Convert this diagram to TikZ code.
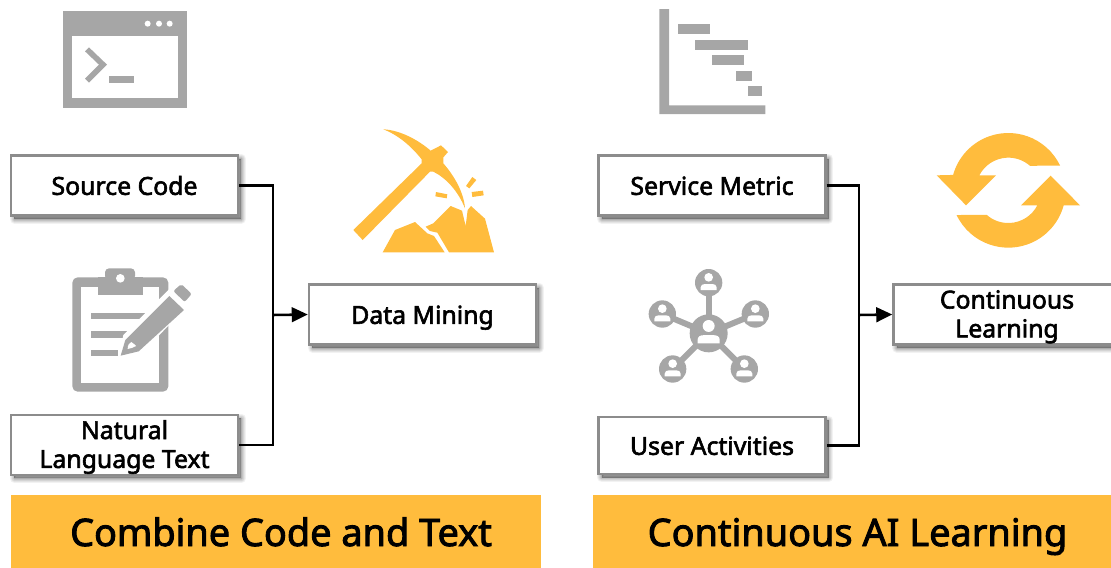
\documentclass[tikz,border=0pt]{standalone}
\usepackage{fontspec}
\setmainfont{Noto Sans}
\newfontfamily\labelfont{Noto Sans}[FakeBold=2.4]
\newfontfamily\bannerfont{Noto Sans}[FakeBold=2.4]
\usetikzlibrary{arrows.meta}
\definecolor{iconGray}{HTML}{A6A6A6}
\definecolor{gold}{HTML}{FFBC3D}
\definecolor{boxEdge}{HTML}{8C8C8C}
\tikzset{
  softshadow/.style={
    preaction={draw=black,fill=black,opacity=.05,line width=7pt,line join=round,transform canvas={shift={(2.5pt,-2.5pt)}}},
    preaction={draw=black,fill=black,opacity=.06,line width=5.5pt,line join=round,transform canvas={shift={(2.5pt,-2.5pt)}}},
    preaction={draw=black,fill=black,opacity=.07,line width=4pt,line join=round,transform canvas={shift={(2.5pt,-2.5pt)}}},
    preaction={draw=black,fill=black,opacity=.08,line width=2.5pt,line join=round,transform canvas={shift={(2.5pt,-2.5pt)}}},
    preaction={draw=black,fill=black,opacity=.1,line width=1pt,line join=round,transform canvas={shift={(2.5pt,-2.5pt)}}}},
  labelbox/.style={draw=boxEdge,fill=white,line width=1.9pt,minimum width=170.2pt,softshadow,
    inner sep=0pt,align=center,font=\fontsize{18.6pt}{21.7pt}\labelfont},
  oneline/.style={text height=16pt,text depth=2pt},
  twolines/.style={text height=36.2pt,text depth=1.8pt},
  banner/.style={fill=gold,draw=none,inner sep=0pt},
  bannertext/.style={inner sep=0pt,text height=24pt,text depth=3pt,font=\fontsize{28.4pt}{32pt}\bannerfont},
  wire/.style={draw=black,line width=1.9pt},
  arrowwire/.style={wire,-{Triangle[length=12pt,width=11pt]},shorten >=0pt},
  icon/.style={fill=iconGray,draw=none},
  goldicon/.style={fill=gold,draw=none},
  zoomed/.style={x=.25pt,y=-.25pt}
}
\newcommand{\netperson}[3]{%
  \begin{scope}[shift={(#1,#2)},scale=#3]
    \fill[white] (0,-16) circle[radius=13];
    \fill[white] (-24,22) -- (-24,14) .. controls (-24,7) and (-18,4) .. (-11,4) -- (11,4) .. controls (18,4) and (24,7) .. (24,14) -- (24,22) -- cycle;
  \end{scope}}
\begin{document}
\begin{tikzpicture}[x=.75pt,y=-.75pt]
\useasboundingbox (0,0) rectangle (1111,568);
\clip (0,0) rectangle (1111,568);

% terminal icon
\begin{scope}[shift={(40,0)},zoomed]
  \fill[icon] (68,34) rectangle (441,323);
  \fill[white] (96,108) rectangle (413,295);
  \foreach \d in {323,357,389} \fill[white] (\d,71) circle[radius=9];
  \draw[iconGray,line width=4.2pt] (141,148) -- (189,194) -- (141,242);
  \fill[icon] (207,228) rectangle (282,248);
\end{scope}

% pickaxe icon
\begin{scope}[shift={(340,120)},zoomed]
  \fill[goldicon] (130,28) .. controls (180,30) and (235,60) .. (272,92) -- (303,76) -- (324,96) -- (310,112) -- (310,130)
    .. controls (345,170) and (372,220) .. (375,265) .. controls (355,215) and (320,175) .. (280,155) -- (270,155)
    -- (68,360) -- (40,330) -- (245,130) -- (245,118) .. controls (215,80) and (175,45) .. (130,28) -- cycle;
  \fill[goldicon] (378,198) -- (397,171) -- (409,180) -- (388,205) -- cycle;
  \fill[goldicon] (395,216) -- (429,212) -- (431,226) -- (397,231) -- cycle;
  \fill[goldicon] (288,216) -- (322,223) -- (320,235) -- (286,229) -- cycle;
  \fill[goldicon] (128,397) -- (165,330) -- (225,306) -- (262,340) -- (282,348) -- (314,397) -- cycle;
  \fill[goldicon] (257,320) -- (280,310) -- (332,258) -- (366,272) -- (377,318) -- (383,270) -- (393,258) -- (435,296) -- (462,397) -- (327,397) -- (292,338) -- (270,333) -- cycle;
\end{scope}

% clipboard icon
\begin{scope}[shift={(60,260)},zoomed]
  \fill[icon,rounded corners=4pt] (37,52) rectangle (325,395);
  \fill[white] (63,80) rectangle (298,368);
  \fill[icon,rounded corners=3pt] (135,60) -- (135,25) -- (225,25) -- (225,60) -- cycle;
  \fill[icon] (115,52) rectangle (248,106);
  \fill[white] (181,55) circle[radius=13];
  \fill[icon] (92,158) rectangle (255,178);
  \fill[icon] (92,214) rectangle (200,233);
  \fill[icon] (92,270) rectangle (175,288);
  \fill[white] (175,300) -- (190,225) -- (345,70) -- (365,60) -- (408,100) -- (395,125) -- (240,285) -- cycle;
  \fill[icon] (182,287) -- (196,240) -- (328,108) -- (372,150) -- (236,274) -- cycle;
  \fill[icon,rounded corners=1.5pt] (340,93) -- (364,72) -- (395,102) -- (374,126) -- cycle;
  \fill[white] (203,267) .. controls (203,255) and (208,248) .. (214,246) .. controls (220,250) and (226,255) .. (228,258) .. controls (222,262) and (212,266) .. (203,267) -- cycle;
\end{scope}

% gantt icon
\begin{scope}[shift={(640,0)},zoomed]
  \fill[icon] (58,27) -- (87,27) -- (87,316) -- (376,316) -- (376,342) -- (58,342) -- cycle;
  \fill[icon] (114,72) rectangle (210,102);
  \fill[icon] (165,120) rectangle (324,150);
  \fill[icon] (216,165) rectangle (312,195);
  \fill[icon] (288,213) rectangle (336,243);
  \fill[icon] (324,258) rectangle (366,288);
\end{scope}

% network icon
\begin{scope}[shift={(640,260)},zoomed]
  \foreach \px/\py in {206/68,67/162,346/162,98/327,313/327}
    \draw[iconGray,line width=4.5pt] (206,220) -- (\px,\py);
  \fill[icon] (206,220) circle[radius=57];
  \foreach \px/\py in {206/68,67/162,346/162,98/327,313/327}{
    \fill[icon] (\px,\py) circle[radius=41];
    \netperson{\px}{\py}{1}
  }
  \netperson{206}{220}{1.38}
\end{scope}

% cycle icon
\begin{scope}[shift={(920,120)},zoomed]
  \fill[goldicon] (265,211) ++(-25.5:172) arc[start angle=-25.5,end angle=-164.4,radius=172]
    -- (50,166) -- (138,256) -- (228,166) -- (178,166) arc[start angle=-152.7,end angle=-48.7,radius=98] -- cycle;
  \fill[goldicon] (265,211) ++(154.5:172) arc[start angle=154.5,end angle=15.3,radius=172]
    -- (480,256) -- (392,167) -- (303,256) -- (352,256) arc[start angle=27.3,end angle=131.3,radius=98] -- cycle;
\end{scope}

% boxes
\node[labelbox,oneline,minimum height=45pt] (src) at (124.5,185.5) {Source Code};
\node[labelbox,twolines,minimum height=45pt] (nl) at (124.5,445) {Natural\\Language Text};
\node[labelbox,oneline,minimum height=45pt] (dm) at (422.5,314.5) {Data Mining};
\node[labelbox,oneline,minimum height=45pt] (sm) at (712,185.5) {Service Metric};
\node[labelbox,oneline,minimum height=43pt] (ua) at (712,445.5) {User Activities};
\node[labelbox,twolines,minimum height=45pt] (cl) at (1007,314.5) {Continuous\\Learning};

% connectors
\coordinate (j1) at (273,315);
\coordinate (j2) at (859,315);
\draw[wire,line join=miter] (src.east) -| (j1) |- (nl.east);
\draw[arrowwire] (j1) -- (dm.west);
\draw[wire,line join=miter] (sm.east) -| (j2) |- (ua.east);
\draw[arrowwire] (j2) -- (cl.west);

% banners
\fill[banner] (11,495) rectangle (541,568);
\fill[banner] (593,495) rectangle (1111,568);
\node[bannertext] (b1) at (281,532) {Combine Code and Text};
\node[bannertext] (b2) at (857.5,532) {Continuous AI Learning};
\end{tikzpicture}
\end{document}
